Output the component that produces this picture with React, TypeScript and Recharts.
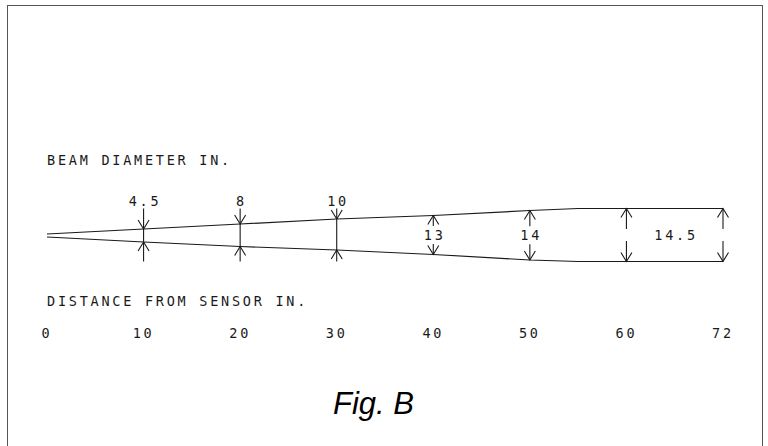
import { ComposedChart, Line, Scatter, XAxis, YAxis, ReferenceLine } from "recharts";

// stations along the beam (tick labels, evenly spaced in the drawing)
const stations = ["0", "10", "20", "30", "40", "50", "60", "72"];

// beam outline (station index -> edge offset from axis)
const beamAt = [0, 1, 2, 3, 4, 5, 5.5, 6, 7];
const beamTop = [1.5, 6.5, 11.5, 16.5, 20, 25, 27, 27, 27];
const beamBottom = [-1.5, -6.5, -11, -14.5, -19, -24.5, -26, -26, -26];

// dimension arrows and their labels
const dimAt = [1, 2, 3, 4, 5, 6, 7];
const dimText = ["4.5", "8", "10", "13", "14", "14.5"];
const dimTextAt = [1, 2, 3, 4, 5, 6.5];

const W = 768;
const H = 446;
const ink = "#1a1a1a";
const cad = "'DejaVu Sans Mono', monospace";
const cadSize = 13.5;
const cadSpacing = 2.75;

const edgeAt = (arr: number[], x: number) => arr[beamAt.indexOf(Math.floor(x))];
const beamMax = Math.max(...beamTop);
const beamMin = Math.min(...beamBottom);
// stations up to 30 get arrows from outside, the rest from inside
const outside = (x: number) => x <= 3;

const beamRows = beamAt.map((x, i) => ({ x, top: beamTop[i], bottom: beamBottom[i] }));

const arrowRows = dimAt.flatMap((x) => [
  { x, y: edgeAt(beamTop, x), dir: outside(x) ? 1 : -1 },
  { x, y: edgeAt(beamBottom, x), dir: outside(x) ? -1 : 1 },
]);

const labelRows = dimTextAt.map((x, i) => {
  const t = edgeAt(beamTop, x);
  const b = edgeAt(beamBottom, x);
  return outside(x)
    ? { x, y: beamMax, text: dimText[i], above: true }
    : { x, y: (t + b) / 2, text: dimText[i], above: false };
});

const Arrow = (props: any) => {
  const { cx, cy, payload } = props;
  const d = payload.dir;
  return (
    <path
      d={`M${cx - 5.5},${cy - 9 * d} L${cx},${cy} L${cx + 5.5},${cy - 9 * d}`}
      stroke={ink}
      strokeWidth={1.1}
      fill="none"
    />
  );
};

const DimLabel = (props: any) => {
  const { cx, cy, payload } = props;
  return (
    <text
      x={cx + cadSpacing / 2}
      y={payload.above ? cy - 2.5 : cy + 5}
      textAnchor="middle"
      fontFamily={cad}
      fontSize={cadSize}
      letterSpacing={cadSpacing}
      fill={ink}
    >
      {payload.text}
    </text>
  );
};

export default function App() {
  const shafts: { x: number; y1: number; y2: number }[] = [];
  dimAt.forEach((x) => {
    const t = edgeAt(beamTop, x);
    const b = edgeAt(beamBottom, x);
    if (outside(x)) {
      shafts.push({ x, y1: beamMax, y2: beamMin });
    } else {
      const mid = (t + b) / 2;
      const gap = dimTextAt.includes(x) ? 9 : 6;
      shafts.push({ x, y1: t, y2: mid + gap });
      shafts.push({ x, y1: mid - gap, y2: b });
    }
  });

  const caption: React.CSSProperties = {
    position: "absolute",
    left: 47,
    fontFamily: cad,
    fontSize: cadSize,
    letterSpacing: cadSpacing,
    color: ink,
    whiteSpace: "nowrap",
    lineHeight: "14px",
  };

  return (
    <div
      style={{
        position: "absolute",
        left: 0,
        top: 0,
        width: W,
        height: H,
        background: "#fff",
        overflow: "hidden",
      }}
    >
      <div
        style={{
          position: "absolute",
          left: 7,
          top: 5,
          width: 754,
          height: 460,
          borderLeft: "1.5px solid #555",
          borderTop: "1.5px solid #555",
          borderRight: "1.5px solid #555",
        }}
      />
      <div style={{ ...caption, top: 153 }}>BEAM DIAMETER IN.</div>
      <div style={{ ...caption, top: 294 }}>DISTANCE FROM SENSOR IN.</div>
      <div
        style={{
          position: "absolute",
          left: 333,
          top: 386,
          fontFamily: "'Liberation Sans', Arial, sans-serif",
          fontStyle: "italic",
          fontSize: 31,
          color: "#000",
          whiteSpace: "nowrap",
        }}
      >
        Fig. B
      </div>
      <div style={{ position: "absolute", left: 0, top: 0 }}>
        <ComposedChart
          width={W}
          height={H}
          margin={{ top: 175.5, right: 45, bottom: 95.5, left: 47 }}
        >
          <XAxis
            dataKey="x"
            type="number"
            domain={[0, 7]}
            ticks={stations.map((_, i) => i)}
            tickFormatter={(v) => stations[v] ?? ""}
            interval={0}
            height={30}
            axisLine={false}
            tickLine={false}
            tick={{ fontFamily: cad, fontSize: cadSize, fill: ink, letterSpacing: cadSpacing }}
          />
          <YAxis type="number" domain={[-85, 60]} hide allowDataOverflow />
          <Line
            data={beamRows}
            dataKey="top"
            type="linear"
            stroke={ink}
            strokeWidth={1.2}
            dot={false}
            isAnimationActive={false}
          />
          <Line
            data={beamRows}
            dataKey="bottom"
            type="linear"
            stroke={ink}
            strokeWidth={1.2}
            dot={false}
            isAnimationActive={false}
          />
          {shafts.map((s, i) => (
            <ReferenceLine
              key={i}
              segment={[
                { x: s.x, y: s.y1 },
                { x: s.x, y: s.y2 },
              ]}
              stroke={ink}
              strokeWidth={1.1}
              ifOverflow="visible"
            />
          ))}
          <Scatter data={arrowRows} dataKey="y" shape={Arrow} isAnimationActive={false} />
          <Scatter data={labelRows} dataKey="y" shape={DimLabel} isAnimationActive={false} />
        </ComposedChart>
      </div>
    </div>
  );
}
